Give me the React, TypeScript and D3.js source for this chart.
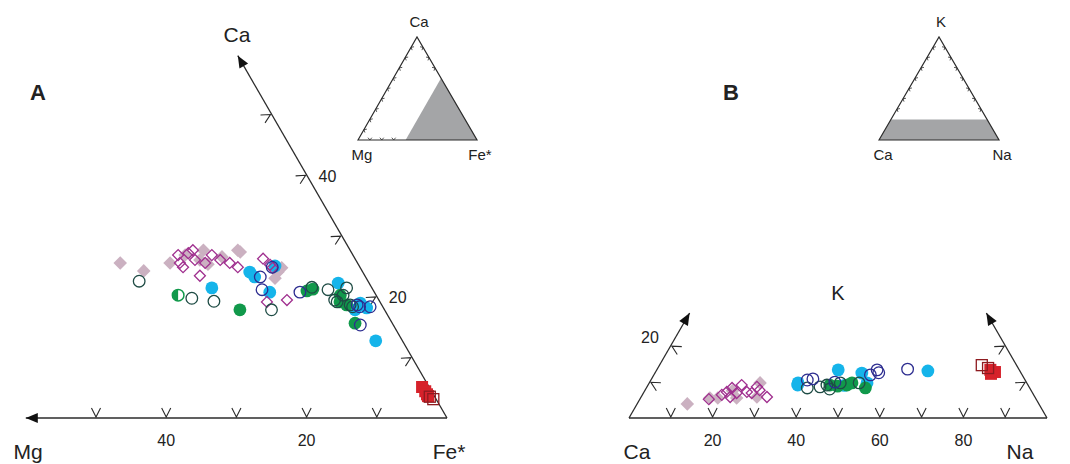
import React from 'react';
import * as d3 from 'd3';

// Panel A: [Mg, Ca] in % (Fe* = rest)
const pinkA = [[33.8, 25.5], [31.1, 24.2], [26.7, 25.5], [23.9, 26.8], [20.9, 27.6], [22.2, 26.0], [21.4, 25.3], [18.8, 26.5], [16.0, 27.6], [15.8, 27.3], [11.2, 24.7], [13.0, 23.0], [12.1, 24.0]];
const magentaA = [[24.9, 26.8], [25.3, 25.5], [23.3, 27.1], [22.4, 27.6], [22.9, 26.0], [23.5, 23.4], [20.1, 26.8], [19.3, 26.0], [18.2, 25.5], [21.7, 25.5], [25.2, 24.8], [17.4, 24.8], [13.1, 26.2], [12.6, 25.2], [12.5, 24.7], [16.1, 19.1], [13.1, 19.4]];
const cyanA = [[22.8, 21.4], [16.1, 24.0], [15.8, 23.2], [12.0, 25.0], [14.9, 20.7], [4.4, 22.2], [2.9, 18.9], [2.4, 18.1], [3.8, 12.7], [4.2, 17.8]];
const greenA = [[20.6, 17.8], [9.5, 20.9], [8.5, 21.2], [5.7, 19.1], [5.0, 18.6], [5.3, 15.6], [5.1, 20.2]];
const dkGreenA = [[32.6, 22.5], [26.5, 19.7], [23.6, 19.2], [16.1, 17.8], [8.5, 21.5], [6.4, 21.1], [6.3, 19.4], [3.6, 21.4], [6.1, 19.1], [4.7, 20.2], [4.5, 18.6], [4.3, 18.3]];
const navyA = [[15.0, 23.2], [15.8, 21.1], [12.5, 24.8], [10.6, 20.7], [3.5, 18.6], [3.3, 18.3], [1.8, 18.3], [4.7, 15.3]];
const halfA = [[28.2, 20.2]];
const redFilledA = [[1.0, 5.1], [0.9, 4.4], [0.9, 3.9], [0.9, 3.6]];
const redOpenA = [[0.7, 3.5], [0.4, 3.1]];

// Panel B: [Na, K] in % (Ca = rest)
const pinkB = [[12.0, 3.9], [18.5, 5.5], [23.0, 5.5], [26.5, 9.7], [27.7, 5.8], [16.6, 5.5], [21.0, 7.5]];
const magentaB = [[16.5, 5.2], [19.8, 7.2], [20.5, 8.3], [22.4, 9.1], [24.6, 7.2], [26.3, 8.6], [30.1, 5.8], [19.0, 6.4], [22.3, 6.9], [25.9, 6.9], [27.4, 7.7], [21.3, 5.8]];
const cyanB = [[35.8, 9.1], [35.6, 9.7], [43.4, 13.3], [49.5, 12.4], [65.0, 13.0], [52.1, 9.7], [47.0, 9.0]];
const greenB = [[43.5, 9.1], [47.6, 9.1], [52.4, 8.3], [48.5, 9.7], [45.5, 8.8]];
const dkGreenB = [[38.5, 8.3], [42.8, 9.1], [45.7, 9.7], [41.4, 8.6], [50.2, 9.7], [44.0, 8.0]];
const navyB = [[37.4, 10.5], [59.9, 13.5], [52.7, 13.3], [51.8, 11.9], [44.3, 9.9], [38.6, 10.8], [53.5, 12.5]];
const redFilledB = [[81.2, 12.7], [79.8, 13.3], [80.5, 12.2]];
const redOpenB = [[77.1, 14.6], [79.0, 13.8]];

const ticksA = [10, 20, 30, 40, 50];
const labelsA = [20, 40];
const ticksBbase = [10, 20, 30, 40, 50, 60, 70, 80, 90];
const labelsBbase = [20, 40, 60, 80];
const ticksBside = [10, 20];

const S3 = Math.sqrt(3) / 2;
const FONT = "'Liberation Sans', Arial, Helvetica, sans-serif";
const AX = '#2b2b2b';

const sA = d3.scaleLinear().domain([0, 100]).range([0, 702]);
const projA = (mg: number, ca: number): [number, number] => [447 - sA(mg) - sA(ca) / 2, 418 - sA(ca) * S3];
const sB = d3.scaleLinear().domain([0, 100]).range([0, 418]);
const projB = (na: number, k: number): [number, number] => [629 + sB(na) + sB(k) / 2, 418 - sB(k) * S3];

const diamond = d3.symbol().type(d3.symbolSquare);

// chevron tick: apex at (x,y), arms opening toward angle (deg)
const chevron = (x: number, y: number, ang: number, len = 10, spread = 27) => {
  const a1 = ((ang - spread) * Math.PI) / 180;
  const a2 = ((ang + spread) * Math.PI) / 180;
  return `M${x + len * Math.cos(a1)},${y + len * Math.sin(a1)}L${x},${y}L${x + len * Math.cos(a2)},${y + len * Math.sin(a2)}`;
};

const arrowHead = (x: number, y: number, ang: number) => {
  // tip at (x,y), pointing in direction ang (deg)
  const a = (ang * Math.PI) / 180;
  const l = 12, w = 5;
  const bx = x - l * Math.cos(a), by = y - l * Math.sin(a);
  const px = -Math.sin(a) * w, py = Math.cos(a) * w;
  return `M${x},${y}L${bx + px},${by + py}L${bx - px},${by - py}Z`;
};

type Pt = number[];

const Markers = ({ data, proj, kind, color }: { data: Pt[]; proj: (a: number, b: number) => [number, number]; kind: string; color: string }) => (
  <g>
    {data.map((d, i) => {
      const [x, y] = proj(d[0], d[1]);
      if (kind === 'fdiamond')
        return <path key={i} d={diamond.size(92)() as string} transform={`translate(${x},${y}) rotate(45)`} fill={color} />;
      if (kind === 'odiamond')
        return <path key={i} d={diamond.size(60)() as string} transform={`translate(${x},${y}) rotate(45)`} fill="none" stroke={color} strokeWidth={1.3} />;
      if (kind === 'fcircle') return <circle key={i} cx={x} cy={y} r={6.4} fill={color} />;
      if (kind === 'ocircle') return <circle key={i} cx={x} cy={y} r={5.8} fill="none" stroke={color} strokeWidth={1.3} />;
      if (kind === 'fsquare') return <rect key={i} x={x - 6} y={y - 6} width={12} height={12} fill={color} />;
      if (kind === 'osquare') return <rect key={i} x={x - 5.5} y={y - 5.5} width={11} height={11} fill="none" stroke={color} strokeWidth={1.3} />;
      if (kind === 'half')
        return (
          <g key={i}>
            <circle cx={x} cy={y} r={5.8} fill="#fff" stroke={color} strokeWidth={1.5} />
            <path d={`M${x},${y - 5.8}A5.8,5.8 0 0 0 ${x},${y + 5.8}Z`} fill={color} />
          </g>
        );
      return null;
    })}
  </g>
);

// small inset triangle
const Inset = ({ top, left, right, labels, shade, ticksL, ticksR, ticksB }: any) => {
  const bary = (a: number, b: number, c: number): [number, number] => [
    (a * left[0] + b * right[0] + c * top[0]) / 100,
    (a * left[1] + b * right[1] + c * top[1]) / 100,
  ];
  const tk = (p: [number, number], ang: number, i: number) => <path key={i} d={chevron(p[0], p[1], ang, 3, 40)} fill="none" stroke={AX} strokeWidth={0.8} />;
  return (
    <g>
      <path d={d3.line()(shade.map((s: number[]) => bary(s[0], s[1], s[2]))) + 'Z'} fill="#a4a5a7" />
      <path d={`M${left[0]},${left[1]}L${top[0]},${top[1]}L${right[0]},${right[1]}Z`} fill="none" stroke={AX} strokeWidth={1.2} />
      {ticksL.map((t: number, i: number) => tk(bary(100 - t, 0, t), 30, i))}
      {ticksR.map((t: number, i: number) => tk(bary(0, 100 - t, t), 150, i))}
      {ticksB.map((t: number, i: number) => tk(bary(100 - t, t, 0), -90, i))}
      <text x={top[0] + 2} y={top[1] - 10} textAnchor="middle" fontSize={15}>{labels[0]}</text>
      <text x={left[0] + 4} y={left[1] + 20} textAnchor="middle" fontSize={15}>{labels[1]}</text>
      <text x={right[0] + 3} y={right[1] + 20} textAnchor="middle" fontSize={15}>{labels[2]}</text>
    </g>
  );
};

export default function App() {
  const caTip = projA(0, 59.6);
  const mgTip = projA(60, 0);
  const kTipL = projB(0, 29);
  const kTipR = projB(71, 29);
  return (
    <svg width={1070} height={464} style={{ position: 'absolute', left: 0, top: 0, background: '#fff' }} fontFamily={FONT} fill="#222">
      {/* ---------- Panel A ---------- */}
      <text x={38} y={100} fontSize={22} fontWeight="bold" textAnchor="middle">A</text>
      <line x1={447} y1={418} x2={mgTip[0]} y2={mgTip[1]} stroke={AX} strokeWidth={1.3} />
      <line x1={447} y1={418} x2={caTip[0]} y2={caTip[1]} stroke={AX} strokeWidth={1.3} />
      <path d={arrowHead(mgTip[0], mgTip[1], 180)} fill="#111" />
      <path d={arrowHead(caTip[0], caTip[1], 240)} fill="#111" />
      {ticksA.map((t) => {
        const [x, y] = projA(t, 0);
        return <path key={'ab' + t} d={chevron(x, y - 1, -90)} fill="none" stroke={AX} strokeWidth={1.1} />;
      })}
      {ticksA.map((t) => {
        const [x, y] = projA(0, t);
        return <path key={'ar' + t} d={chevron(x - 1, y + 0.5, 150)} fill="none" stroke={AX} strokeWidth={1.1} />;
      })}
      {labelsA.map((t) => {
        const [x] = projA(t, 0);
        return <text key={'lb' + t} x={x} y={446} fontSize={16} textAnchor="middle">{t}</text>;
      })}
      {labelsA.map((t) => {
        const [x, y] = projA(0, t);
        return <text key={'lr' + t} x={x + 12} y={y + 7} fontSize={16}>{t}</text>;
      })}
      <text x={237} y={42} fontSize={21} textAnchor="middle">Ca</text>
      <text x={28} y={459} fontSize={21} textAnchor="middle">Mg</text>
      <text x={449} y={459} fontSize={21} textAnchor="middle">Fe*</text>

      <Markers data={pinkA} proj={projA} kind="fdiamond" color="#cbb1c1" />
      <Markers data={cyanA} proj={projA} kind="fcircle" color="#15b4ea" />
      <Markers data={greenA} proj={projA} kind="fcircle" color="#11994b" />
      <Markers data={magentaA} proj={projA} kind="odiamond" color="#a0308f" />
      <Markers data={dkGreenA} proj={projA} kind="ocircle" color="#1f4c45" />
      <Markers data={navyA} proj={projA} kind="ocircle" color="#2d2d90" />
      <Markers data={halfA} proj={projA} kind="half" color="#11994b" />
      <Markers data={redFilledA} proj={projA} kind="fsquare" color="#d6222b" />
      <Markers data={redOpenA} proj={projA} kind="osquare" color="#8e1b20" />

      <Inset
        top={[417, 37]}
        left={[358, 140]}
        right={[477, 140]}
        labels={['Ca', 'Mg', 'Fe*']}
        shade={[[60, 40, 0], [0, 100, 0], [0, 40, 60]]}
        ticksL={[10, 20, 30, 40, 50, 60, 70, 80, 90]}
        ticksR={[70, 80, 90]}
        ticksB={[10, 20, 30]}
      />

      {/* ---------- Panel B ---------- */}
      <text x={731} y={100} fontSize={22} fontWeight="bold" textAnchor="middle">B</text>
      <line x1={629} y1={418} x2={1047} y2={418} stroke={AX} strokeWidth={1.3} />
      <line x1={629} y1={418} x2={kTipL[0]} y2={kTipL[1]} stroke={AX} strokeWidth={1.3} />
      <line x1={1047} y1={418} x2={kTipR[0]} y2={kTipR[1]} stroke={AX} strokeWidth={1.3} />
      <path d={arrowHead(kTipL[0], kTipL[1], -60)} fill="#111" />
      <path d={arrowHead(kTipR[0], kTipR[1], 240)} fill="#111" />
      {ticksBbase.map((t) => {
        const [x, y] = projB(t, 0);
        return <path key={'bb' + t} d={chevron(x, y - 1, -90)} fill="none" stroke={AX} strokeWidth={1.1} />;
      })}
      {ticksBside.map((t) => {
        const [x, y] = projB(0, t);
        return <path key={'bl' + t} d={chevron(x + 1, y + 0.5, 30)} fill="none" stroke={AX} strokeWidth={1.1} />;
      })}
      {ticksBside.map((t) => {
        const [x, y] = projB(100 - t, t);
        return <path key={'br' + t} d={chevron(x - 1, y + 0.5, 150)} fill="none" stroke={AX} strokeWidth={1.1} />;
      })}
      {labelsBbase.map((t) => {
        const [x] = projB(t, 0);
        return <text key={'lbb' + t} x={x} y={446} fontSize={16} textAnchor="middle">{t}</text>;
      })}
      <text x={projB(0, 20)[0] - 12} y={projB(0, 20)[1] - 3} fontSize={16} textAnchor="end">20</text>
      <text x={838} y={300} fontSize={20} textAnchor="middle">K</text>
      <text x={637} y={459} fontSize={21} textAnchor="middle">Ca</text>
      <text x={1020} y={459} fontSize={21} textAnchor="middle">Na</text>

      <Markers data={pinkB} proj={projB} kind="fdiamond" color="#cbb1c1" />
      <Markers data={magentaB} proj={projB} kind="odiamond" color="#a0308f" />
      <Markers data={cyanB} proj={projB} kind="fcircle" color="#15b4ea" />
      <Markers data={greenB} proj={projB} kind="fcircle" color="#11994b" />
      <Markers data={dkGreenB} proj={projB} kind="ocircle" color="#1f4c45" />
      <Markers data={navyB} proj={projB} kind="ocircle" color="#2d2d90" />
      <Markers data={redFilledB} proj={projB} kind="fsquare" color="#d6222b" />
      <Markers data={redOpenB} proj={projB} kind="osquare" color="#8e1b20" />

      <Inset
        top={[939, 37]}
        left={[879, 140]}
        right={[999, 140]}
        labels={['K', 'Ca', 'Na']}
        shade={[[100, 0, 0], [0, 100, 0], [0, 80, 20], [80, 0, 20]]}
        ticksL={[30, 40, 50, 60, 70, 80, 90]}
        ticksR={[30, 40, 50, 60, 70, 80, 90]}
        ticksB={[]}
      />
    </svg>
  );
}
